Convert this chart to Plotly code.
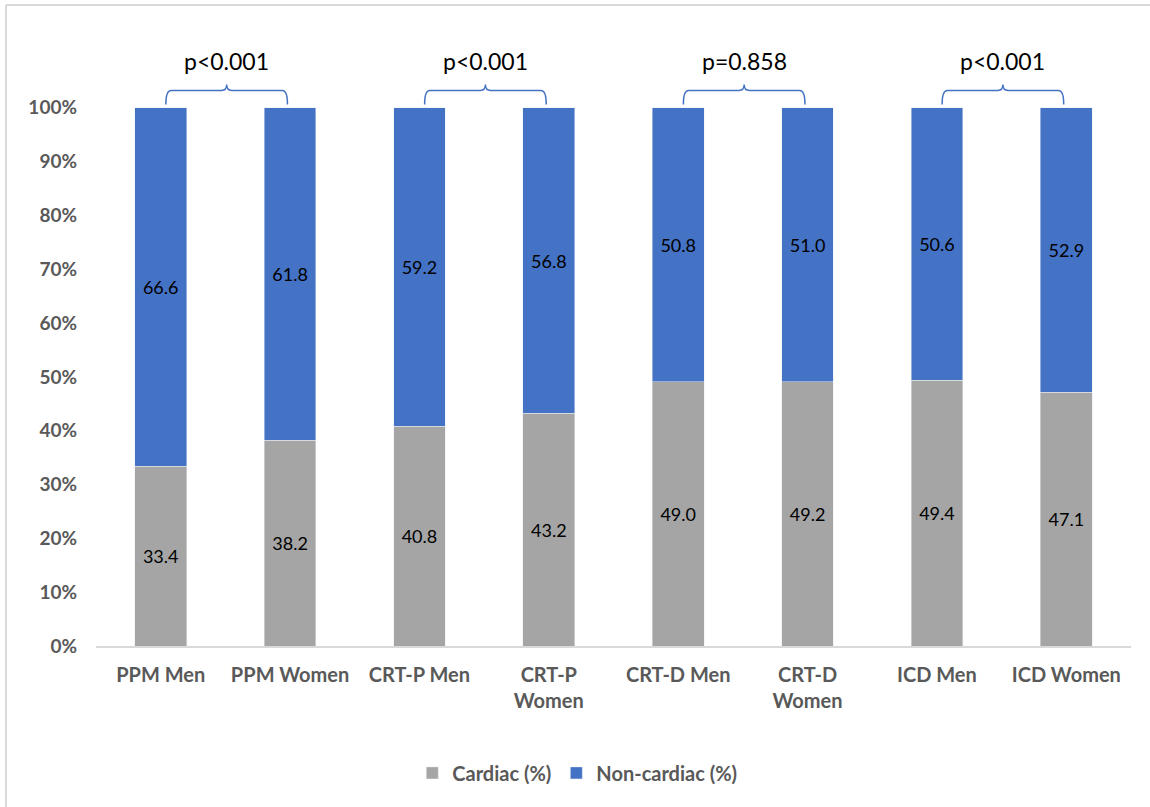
import plotly.graph_objects as go

# Device groups and sexes
categories = ["PPM Men", "PPM Women", "CRT-P Men", "CRT-P<br>Women",
              "CRT-D Men", "CRT-D<br>Women", "ICD Men", "ICD Women"]
cardiac = [33.4, 38.2, 40.8, 43.2, 49.0, 49.2, 49.4, 47.1]
non_cardiac = [66.6, 61.8, 59.2, 56.8, 50.8, 51.0, 50.6, 52.9]

# Pairwise comparisons (men vs women within each device type)
pairs = [(0, 1), (2, 3), (4, 5), (6, 7)]
p_values = ["p<0.001", "p<0.001", "p=0.858", "p<0.001"]

y_ticks = [0, 10, 20, 30, 40, 50, 60, 70, 80, 90, 100]
y_tick_text = [f"{v}%" for v in y_ticks]

GREY = "#A5A5A5"
BLUE = "#4472C4"
AXIS_TEXT = "#595959"
FONT = "Lato"

x = list(range(len(categories)))

fig = go.Figure()
fig.add_trace(go.Bar(
    x=x, y=cardiac, name="<b>Cardiac (%)</b>", marker_color=GREY,
    text=[f"{v:.1f}" for v in cardiac], textposition="inside",
    insidetextanchor="middle", textfont=dict(size=18, color="black", family=FONT),
    width=0.4,
))
fig.add_trace(go.Bar(
    x=x, y=non_cardiac, name="<b>Non-cardiac (%)</b>", marker_color=BLUE,
    text=[f"{v:.1f}" for v in non_cardiac], textposition="inside",
    insidetextanchor="middle", textfont=dict(size=18, color="black", family=FONT),
    width=0.4,
))

# Curly braces with p-values above each pair
brace_base, brace_bar, brace_tip = 100.6, 103.2, 104.3
for (a, b), p in zip(pairs, p_values):
    x0, x1 = a + 0.04, b - 0.02
    m = (x0 + x1) / 2
    c = 0.04
    path = (
        f"M {x0},{brace_base} Q {x0},{brace_bar} {x0 + c},{brace_bar} "
        f"L {m - c},{brace_bar} Q {m},{brace_bar} {m},{brace_tip} "
        f"Q {m},{brace_bar} {m + c},{brace_bar} "
        f"L {x1 - c},{brace_bar} Q {x1},{brace_bar} {x1},{brace_base}"
    )
    fig.add_shape(type="path", path=path, xref="x", yref="y",
                  line=dict(color=BLUE, width=1.5))
    fig.add_annotation(x=m, y=108.6, xref="x", yref="y", text=p,
                       showarrow=False, font=dict(size=23, color="black", family=FONT))

# Light frame along the top and left edges
fig.add_shape(type="line", xref="paper", yref="paper",
              x0=-0.087, x1=1.1, y0=1.0355, y1=1.0355,
              line=dict(color="#D9D9D9", width=2))
fig.add_shape(type="line", xref="paper", yref="paper",
              x0=-0.087, x1=-0.087, y0=-0.3, y1=1.0355,
              line=dict(color="#D9D9D9", width=2))

fig.update_layout(
    barmode="stack",
    barnorm="percent",
    width=1150, height=807,
    margin=dict(l=96, r=19, t=27, b=161),
    plot_bgcolor="white", paper_bgcolor="white",
    font=dict(family=FONT),
    showlegend=True,
    legend=dict(orientation="h", x=0.465, xanchor="center", y=-0.205, yanchor="middle",
                font=dict(size=20, color=AXIS_TEXT, family=FONT),
                traceorder="normal", itemwidth=30),
    xaxis=dict(
        tickmode="array", tickvals=x, ticktext=[f"<b>{c}</b>" for c in categories],
        range=[-0.5, 7.5], showline=True, linecolor="#D9D9D9", linewidth=1.5,
        ticks="", showgrid=False, zeroline=False, ticklabelstandoff=10,
        tickfont=dict(size=20, color=AXIS_TEXT, family=FONT),
    ),
    yaxis=dict(
        tickmode="array", tickvals=y_ticks, ticktext=[f"<b>{t}</b>" for t in y_tick_text],
        range=[0, 115], showline=False, showgrid=False, zeroline=False,
        ticks="", ticklabelstandoff=18,
        tickfont=dict(size=19, color=AXIS_TEXT, family=FONT),
    ),
)

fig.write_html("out.html")
